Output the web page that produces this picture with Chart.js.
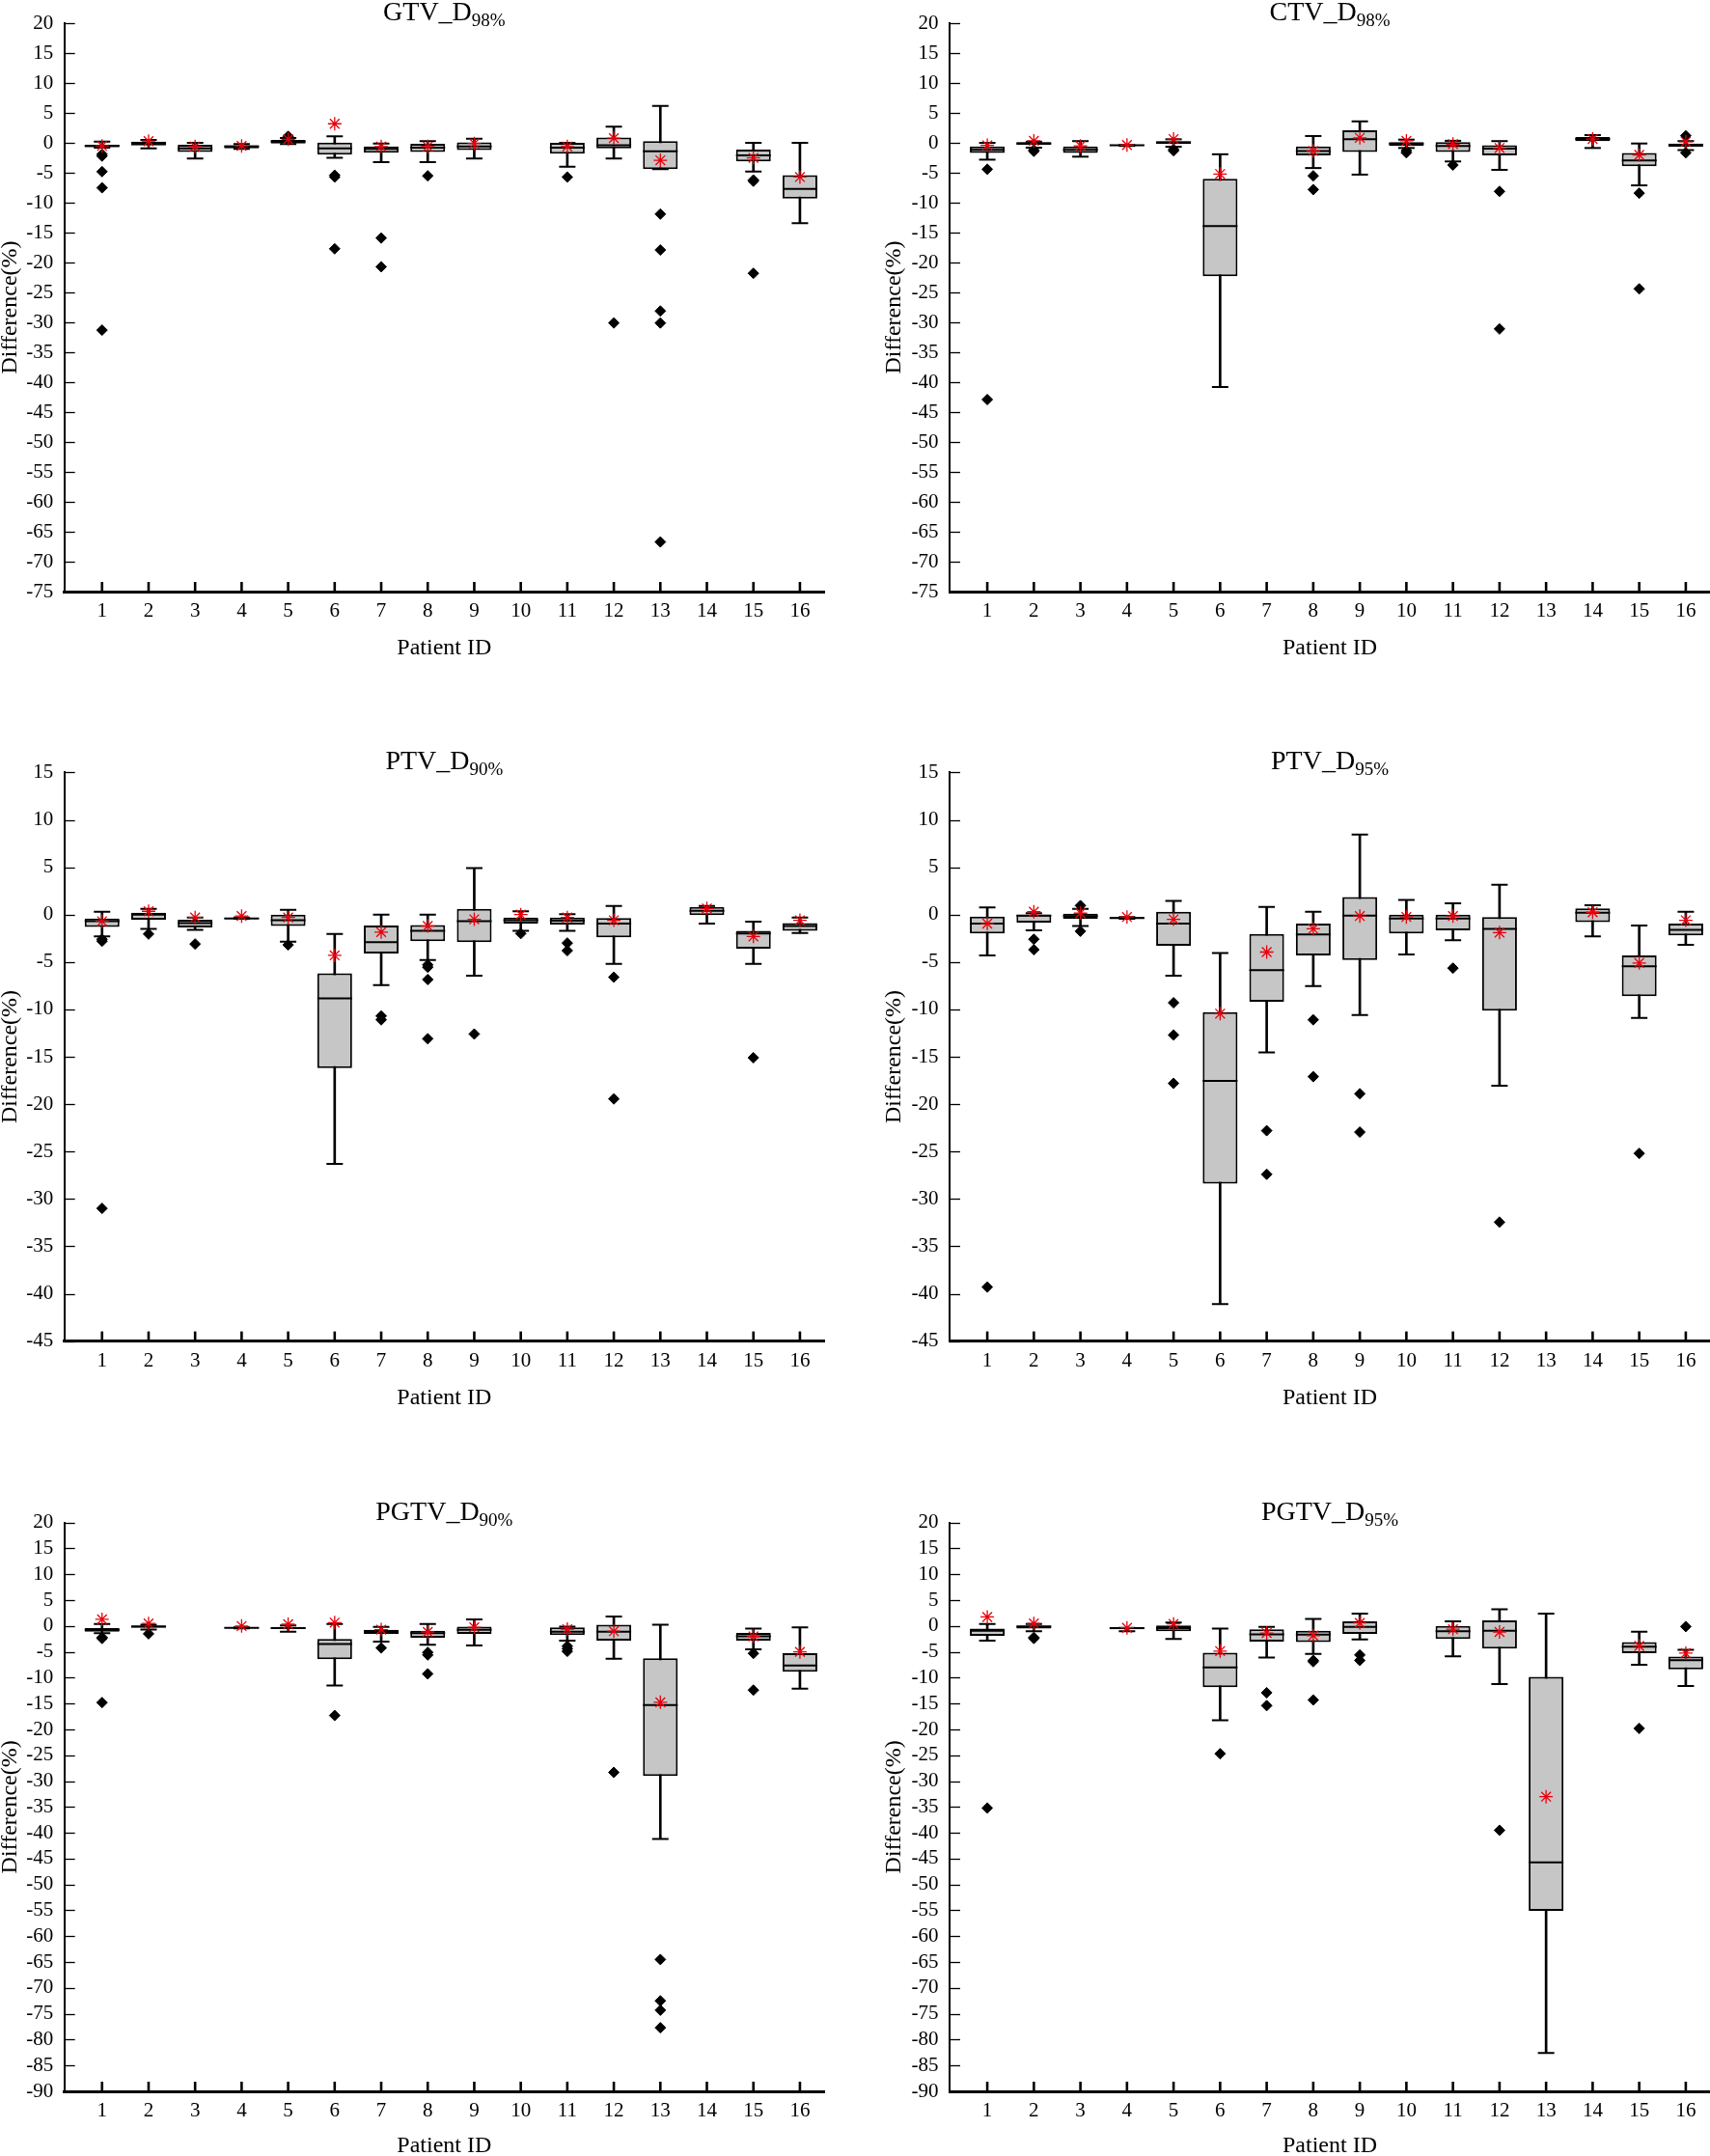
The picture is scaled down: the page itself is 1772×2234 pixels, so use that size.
<!DOCTYPE html>
<html>
<head>
<meta charset="utf-8">
<title>Difference per patient</title>
<script src="https://cdn.jsdelivr.net/npm/chart.js@4.4.1/dist/chart.umd.min.js"></script>
<style>
  html, body { margin: 0; padding: 0; background: #fff; }
  body { width: 1772px; height: 2234px; overflow: hidden; position: relative; }
  .panel { position: absolute; }
</style>
</head>
<body>
<script>
// patient ids on the x axis
const patients = [1, 2, 3, 4, 5, 6, 7, 8, 9, 10, 11, 12, 13, 14, 15, 16];

// GTV_D98%  (null = no box for that patient)
const gtv98Lo   = [-0.8, -0.9, -2.6, -1.0, -0.2, -2.5, -3.2, -3.2, -2.6, null, -4.0, -2.6, -4.4, null, -4.8, -13.4];
const gtv98Q1   = [-0.7, -0.45, -1.5, -0.9, -0.1, -1.95, -1.65, -1.5, -1.2, null, -1.8, -0.9, -4.4, null, -3.1, -9.3];
const gtv98Med  = [-0.5, 0, -0.9, -0.6, 0.2, -0.9, -1.0, -0.8, -0.6, null, -0.8, -0.4, -1.4, null, -2.1, -7.7];
const gtv98Q3   = [-0.3, 0.2, -0.3, -0.4, 0.5, 0.05, -0.6, -0.15, 0.1, null, 0, 0.9, 0.3, null, -1.1, -5.4];
const gtv98Hi   = [0.2, 0.5, 0, -0.2, 0.8, 1.1, -0.1, 0.3, 0.7, null, 0, 2.7, 6.2, null, 0, 0];
const gtv98Mean = [-0.5, 0.3, -0.6, -0.5, 0.6, 3.2, -0.6, -0.6, -0.1, null, -0.6, 0.8, -2.9, null, -2.5, -5.7];
const gtv98Out  = [[-1.9, -2.2, -4.8, -7.5, -31.3], [], [], [], [1.1], [-5.4, -5.7, -17.7], [-15.9, -20.7], [-5.5],
                   [], [], [-5.7], [-30.1], [-11.9, -17.9, -28.1, -30.1, -66.7], [], [-6.2, -6.4, -21.8], []];

// CTV_D98%
const ctv98Lo   = [-2.8, -0.8, -2.3, -0.5, -0.65, -40.8, null, -4.2, -5.3, -0.85, -3.1, -4.5, null, -0.85, -7.1, -1.2];
const ctv98Q1   = [-1.7, -0.3, -1.7, -0.5, -0.2, -22.3, null, -2.1, -1.5, -0.5, -1.5, -2.1, null, 0.3, -3.9, -0.65];
const ctv98Med  = [-1.15, -0.1, -1.15, -0.4, 0.05, -13.9, null, -1.35, 0.6, -0.15, -0.5, -0.95, null, 0.65, -2.95, -0.35];
const ctv98Q3   = [-0.6, 0.15, -0.6, -0.35, 0.3, -6.0, null, -0.6, 2.1, 0.15, 0.15, -0.4, null, 1.0, -1.7, -0.1];
const ctv98Hi   = [0, 0.2, 0.3, -0.35, 0.6, -1.9, null, 1.15, 3.6, 0.55, 0.35, 0.3, null, 1.3, -0.1, 0.3];
const ctv98Mean = [-0.4, 0.35, -0.5, -0.35, 0.65, -5.2, null, -1.35, 0.85, 0.35, -0.2, -0.85, null, 0.65, -2.0, 0.2];
const ctv98Out  = [[-4.4, -42.9], [-1.2, -1.4], [], [], [-1.1, -1.3], [], [], [-5.5, -7.8],
                   [], [-1.3, -1.65], [-3.7], [-8.1, -31.1], [], [], [-8.4, -24.4], [1.2, -1.65]];

// PTV_D90%
const ptv90Lo   = [-2.3, -1.5, -1.6, -0.45, -2.85, -26.3, -7.45, -4.8, -6.45, -1.7, -1.7, -5.2, null, -0.95, -5.2, -1.95];
const ptv90Q1   = [-1.3, -0.55, -1.35, -0.45, -1.2, -16.2, -4.1, -2.8, -2.9, -0.95, -1.05, -2.4, null, -0.05, -3.6, -1.7];
const ptv90Med  = [-0.7, 0, -0.9, -0.4, -0.6, -8.85, -2.9, -1.7, -0.7, -0.6, -0.65, -0.95, null, 0.4, -2.0, -1.2];
const ptv90Q3   = [-0.4, 0.2, -0.55, -0.3, 0, -6.2, -1.15, -1.1, 0.6, -0.3, -0.3, -0.35, null, 0.8, -1.7, -0.9];
const ptv90Hi   = [0.3, 0.6, -0.3, -0.3, 0.5, -2.05, 0, 0, 4.9, 0.35, 0.05, 0.9, null, 0.9, -0.75, -0.3];
const ptv90Mean = [-0.7, 0.35, -0.3, -0.15, -0.3, -4.3, -1.85, -1.2, -0.5, 0, -0.3, -0.6, null, 0.65, -2.3, -0.6];
const ptv90Out  = [[-2.6, -2.8, -31.0], [-2.05], [-3.1], [], [-3.2], [], [-10.7, -11.1], [-5.3, -5.55, -6.85, -13.1],
                   [-12.6], [-2.0], [-3.0, -3.8], [-6.6, -19.45], [], [], [-15.1], []];

// PTV_D95%
const ptv95Lo   = [-4.3, -1.65, -1.2, -0.45, -6.45, -41.1, -14.55, -7.55, -10.6, -4.2, -2.7, -18.05, null, -2.3, -10.9, -3.2];
const ptv95Q1   = [-2.0, -0.85, -0.45, -0.45, -3.3, -28.4, -9.2, -4.3, -4.8, -2.0, -1.65, -10.15, null, -0.8, -8.6, -2.2];
const ptv95Med  = [-0.95, -0.1, -0.15, -0.35, -0.95, -17.55, -5.85, -2.1, -0.1, -0.4, -0.4, -1.5, null, 0.2, -5.45, -1.6];
const ptv95Q3   = [-0.2, 0, 0.1, -0.25, 0.3, -10.3, -2.05, -0.95, 1.85, 0, 0, -0.25, null, 0.65, -4.3, -0.95];
const ptv95Hi   = [0.75, 0.15, 0.6, -0.25, 1.45, -4.05, 0.8, 0.3, 8.45, 1.55, 1.2, 3.15, null, 1.0, -1.15, 0.3];
const ptv95Mean = [-0.95, 0.3, 0.15, -0.25, -0.5, -10.45, -3.95, -1.5, -0.15, -0.25, -0.15, -1.9, null, 0.25, -5.1, -0.6];
const ptv95Out  = [[-39.3], [-2.6, -3.7], [0.95, -1.75], [], [-9.3, -12.7, -17.8], [], [-22.8, -27.4], [-11.1, -17.1],
                   [-18.9, -22.95], [], [-5.65], [-32.45], [], [], [-25.2], []];

// PGTV_D90%
const pgtv90Lo   = [-1.4, -0.7, null, -0.45, -1.1, -11.5, -3.0, -3.6, -3.75, null, -2.85, -6.35, -41.2, null, -4.5, -12.1];
const pgtv90Q1   = [-1.1, -0.3, null, -0.45, -0.6, -6.4, -1.5, -2.25, -1.5, null, -1.75, -2.85, -29.0, null, -2.85, -8.85];
const pgtv90Med  = [-0.75, -0.1, null, -0.35, -0.4, -3.5, -1.1, -1.4, -0.75, null, -1.1, -1.1, -15.3, null, -2.0, -7.65];
const pgtv90Q3   = [-0.4, 0.1, null, -0.25, -0.15, -2.5, -0.75, -0.9, -0.1, null, -0.25, 0.25, -6.25, null, -1.35, -5.25];
const pgtv90Hi   = [0.4, 0.25, null, -0.25, 0.1, 0.4, -0.15, 0.4, 1.3, null, -0.1, 1.85, 0.25, null, -0.5, -0.25];
const pgtv90Mean = [1.3, 0.5, null, 0, 0.35, 0.65, -0.7, -1.15, -0.25, null, -0.6, -1.0, -14.75, null, -2.0, -5.0];
const pgtv90Out  = [[-2.2, -2.4, -14.8], [-1.5], [], [], [], [-17.3], [-4.25], [-5.1, -5.6, -9.25],
                    [], [], [-3.9, -4.4, -4.9], [-28.3], [-64.5, -72.5, -74.3, -77.7], [], [-5.3, -12.4], []];

// PGTV_D95%
const pgtv95Lo   = [-2.85, -1.0, null, -1.0, -2.5, -18.25, -6.1, -5.4, -2.6, null, -5.85, -11.25, -82.6, null, -7.5, -11.6];
const pgtv95Q1   = [-1.9, -0.5, null, -0.65, -1.0, -11.85, -3.0, -3.1, -1.5, null, -2.5, -4.35, -55.1, null, -5.25, -8.4];
const pgtv95Med  = [-0.9, -0.1, null, -0.4, -0.4, -8.0, -1.6, -1.65, -0.15, null, -1.0, -0.9, -45.7, null, -4.0, -6.6];
const pgtv95Q3   = [-0.5, 0.1, null, -0.35, 0.1, -5.15, -0.65, -0.9, 0.9, null, 0, 1.1, -9.85, null, -3.1, -5.9];
const pgtv95Hi   = [0.4, 0.4, null, -0.35, 0.65, -0.5, -0.15, 1.35, 2.4, null, 0.9, 3.25, 2.4, null, -1.1, -4.6];
const pgtv95Mean = [1.75, 0.5, null, -0.35, 0.4, -4.85, -1.35, -1.85, 0.6, null, -0.6, -1.15, -33.0, null, -3.85, -5.25];
const pgtv95Out  = [[-35.2], [-2.2, -2.4], [], [], [], [-24.7], [-12.9, -15.4], [-6.65, -6.9, -14.3],
                    [-5.6, -6.65], [], [], [-39.5], [], [], [-19.8], [-0.1]];

// y axis ranges per row
const yRanges = [[-75, 20], [-45, 15], [-90, 20]];

const panels = [
  { main: 'GTV_D',  sub: '98%', row: 0, col: 0, lo: gtv98Lo,  q1: gtv98Q1,  med: gtv98Med,  q3: gtv98Q3,  hi: gtv98Hi,  mean: gtv98Mean,  out: gtv98Out },
  { main: 'CTV_D',  sub: '98%', row: 0, col: 1, lo: ctv98Lo,  q1: ctv98Q1,  med: ctv98Med,  q3: ctv98Q3,  hi: ctv98Hi,  mean: ctv98Mean,  out: ctv98Out },
  { main: 'PTV_D',  sub: '90%', row: 1, col: 0, lo: ptv90Lo,  q1: ptv90Q1,  med: ptv90Med,  q3: ptv90Q3,  hi: ptv90Hi,  mean: ptv90Mean,  out: ptv90Out },
  { main: 'PTV_D',  sub: '95%', row: 1, col: 1, lo: ptv95Lo,  q1: ptv95Q1,  med: ptv95Med,  q3: ptv95Q3,  hi: ptv95Hi,  mean: ptv95Mean,  out: ptv95Out },
  { main: 'PGTV_D', sub: '90%', row: 2, col: 0, lo: pgtv90Lo, q1: pgtv90Q1, med: pgtv90Med, q3: pgtv90Q3, hi: pgtv90Hi, mean: pgtv90Mean, out: pgtv90Out },
  { main: 'PGTV_D', sub: '95%', row: 2, col: 1, lo: pgtv95Lo, q1: pgtv95Q1, med: pgtv95Med, q3: pgtv95Q3, hi: pgtv95Hi, mean: pgtv95Mean, out: pgtv95Out },
];

// page layout (px)
const rows = [
  { top: 0,    height: 700, padTop: 22.3, xHeight: 87,   titlePad: 13.6 },
  { top: 760,  height: 720, padTop: 40.4, xHeight: 90.4, titlePad: 17.1 },
  { top: 1530, height: 720, padTop: 47.7, xHeight: 83,   titlePad: 11.9 },
];
const cols = [
  { left: 0,   width: 880, yWidth: 66.7, padRight: 26, yTitlePad: 0.2 },
  { left: 890, width: 882, yWidth: 94,   padRight: 0,  yTitlePad: 26.2 },
];

const SERIF = "'Liberation Serif', 'Times New Roman', serif";
Chart.defaults.font.family = SERIF;
Chart.defaults.color = '#000';

// inward tick marks on both axes
const tickMarks = {
  id: 'tickMarks',
  afterDraw(chart) {
    const { ctx, chartArea: a, scales: { x, y } } = chart;
    ctx.save();
    ctx.strokeStyle = '#000';
    ctx.lineWidth = 1.3;
    y.ticks.forEach(t => {
      const py = Math.round(y.getPixelForValue(t.value)) + 0.5;
      ctx.beginPath(); ctx.moveTo(a.left, py); ctx.lineTo(a.left + 11, py); ctx.stroke();
    });
    ctx.lineWidth = 2.6;
    x.ticks.forEach(t => {
      const px = x.getPixelForValue(t.value);
      ctx.beginPath(); ctx.moveTo(px, a.bottom); ctx.lineTo(px, a.bottom - 10); ctx.stroke();
    });
    ctx.restore();
  }
};

// title with subscript
const panelTitle = {
  id: 'panelTitle',
  afterDraw(chart, args, opts) {
    const { ctx, chartArea: a } = chart;
    ctx.save();
    ctx.fillStyle = '#000';
    ctx.textBaseline = 'alphabetic';
    ctx.textAlign = 'left';
    const mainFont = '28px ' + SERIF, subFont = '19px ' + SERIF;
    ctx.font = mainFont;
    const w1 = ctx.measureText(opts.main).width;
    ctx.font = subFont;
    const w2 = ctx.measureText(opts.sub).width;
    const x0 = (a.left + a.right) / 2 - (w1 + w2) / 2;
    const base = a.top - 3;
    ctx.font = mainFont;
    ctx.fillText(opts.main, x0, base);
    ctx.font = subFont;
    ctx.fillText(opts.sub, x0 + w1, base + 6);
    ctx.restore();
  }
};

function pick(arr) {
  return patients.map((p, i) => arr[i] == null ? null : { x: p, y: arr[i] }).filter(Boolean);
}

panels.forEach((pn, k) => {
  const row = rows[pn.row], col = cols[pn.col];
  const [yMin, yMax] = yRanges[pn.row];

  const div = document.createElement('div');
  div.className = 'panel';
  div.style.left = col.left + 'px';
  div.style.top = row.top + 'px';
  div.style.width = col.width + 'px';
  div.style.height = row.height + 'px';
  const cv = document.createElement('canvas');
  div.appendChild(cv);
  document.body.appendChild(div);

  const boxes = patients.map((p, i) => pn.q1[i] == null ? null : { x: p, y: [pn.q1[i], pn.q3[i]] }).filter(Boolean);
  const whiskers = patients.map((p, i) => pn.lo[i] == null ? null : { x: p, y: [pn.lo[i], pn.hi[i]] }).filter(Boolean);
  const caps = pick(pn.lo).concat(pick(pn.hi));
  const outliers = patients.flatMap((p, i) => pn.out[i].map(v => ({ x: p, y: v })));

  new Chart(cv, {
    type: 'bar',
    data: {
      datasets: [
        { type: 'scatter', data: pick(pn.mean), pointStyle: 'star', radius: 7, borderColor: '#e8000b', borderWidth: 1.3 },
        { type: 'scatter', data: outliers, pointStyle: 'rectRot', radius: 5.5, backgroundColor: '#000', borderColor: '#000', borderWidth: 1 },
        { type: 'scatter', data: pick(pn.med), pointStyle: 'line', radius: 18, borderColor: '#000', borderWidth: 2 },
        { type: 'bar', data: boxes, backgroundColor: '#c6c6c6', borderColor: '#000', borderWidth: 2, borderSkipped: false,
          grouped: false, categoryPercentage: 0.747, barPercentage: 1 },
        { type: 'scatter', data: caps, pointStyle: 'line', radius: 8.5, borderColor: '#000', borderWidth: 2 },
        { type: 'bar', data: whiskers, backgroundColor: '#000', borderWidth: 0, grouped: false, barThickness: 2 },
      ]
    },
    options: {
      responsive: true,
      maintainAspectRatio: false,
      animation: false,
      events: [],
      layout: { autoPadding: false, padding: { top: row.padTop, right: col.padRight, bottom: 0, left: 0 } },
      plugins: {
        legend: { display: false },
        tooltip: { enabled: false },
        panelTitle: { main: pn.main, sub: pn.sub }
      },
      scales: {
        x: {
          type: 'linear',
          offset: false,
          min: 0.19,
          max: 16.52,
          afterBuildTicks: s => { s.ticks = patients.map(v => ({ value: v })); },
          afterFit: s => { s.height = row.xHeight; s.paddingLeft = 0; s.paddingRight = 0; },
          grid: { display: false, drawTicks: false },
          border: { display: true, color: '#000', width: 3 },
          ticks: { font: { size: 21 }, padding: 8, maxRotation: 0, autoSkip: false },
          title: { display: true, text: 'Patient ID', font: { size: 24 }, padding: { top: 0, bottom: row.titlePad } }
        },
        y: {
          min: yMin,
          max: yMax,
          afterFit: s => { s.width = col.yWidth; },
          grid: { display: false, drawTicks: false },
          border: { display: true, color: '#000', width: 2 },
          ticks: { stepSize: 5, font: { size: 21 }, padding: 11.5, autoSkip: false },
          title: { display: true, text: 'Difference(%)', font: { size: 24, lineHeight: 0.9 }, padding: { top: col.yTitlePad, bottom: 0 } }
        }
      }
    },
    plugins: [tickMarks, panelTitle]
  });
});
</script>
</body>
</html>
